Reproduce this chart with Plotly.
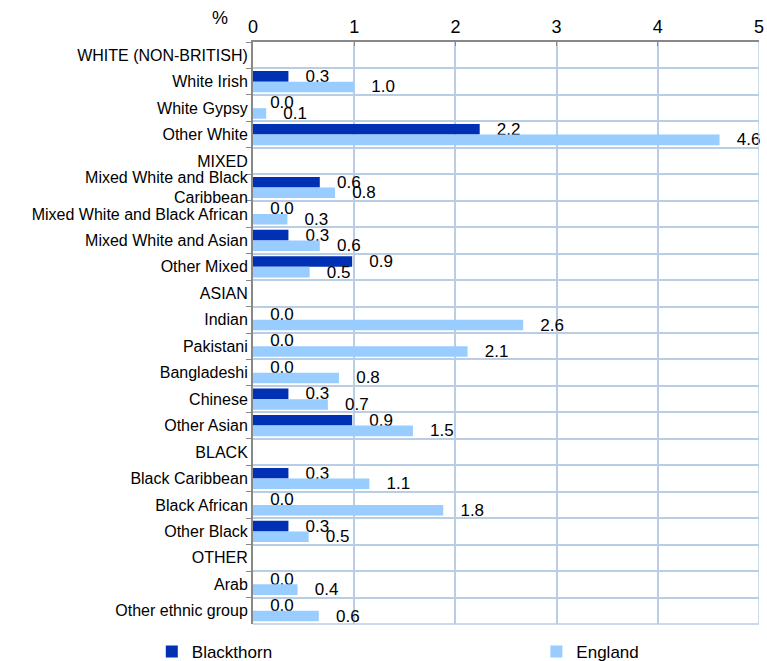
import plotly.graph_objects as go

categories = [
    "WHITE (NON-BRITISH)", "White Irish", "White Gypsy", "Other White",
    "MIXED", "Mixed White and Black<br>Caribbean", "Mixed White and Black African",
    "Mixed White and Asian", "Other Mixed",
    "ASIAN", "Indian", "Pakistani", "Bangladeshi", "Chinese", "Other Asian",
    "BLACK", "Black Caribbean", "Black African", "Other Black",
    "OTHER", "Arab", "Other ethnic group",
]
blackthorn = [None, 0.35, 0.0, 2.24,
              None, 0.66, 0.0, 0.35, 0.98,
              None, 0.0, 0.0, 0.0, 0.35, 0.98,
              None, 0.35, 0.0, 0.35,
              None, 0.0, 0.0]
blackthorn_labels = ["", "0.3", "0.0", "2.2",
                     "", "0.6", "0.0", "0.3", "0.9",
                     "", "0.0", "0.0", "0.0", "0.3", "0.9",
                     "", "0.3", "0.0", "0.3",
                     "", "0.0", "0.0"]
england = [None, 1.0, 0.13, 4.61,
           None, 0.81, 0.34, 0.66, 0.56,
           None, 2.67, 2.12, 0.85, 0.74, 1.58,
           None, 1.15, 1.88, 0.55,
           None, 0.44, 0.65]
england_labels = ["", "1.0", "0.1", "4.6",
                  "", "0.8", "0.3", "0.6", "0.5",
                  "", "2.6", "2.1", "0.8", "0.7", "1.5",
                  "", "1.1", "1.8", "0.5",
                  "", "0.4", "0.6"]
x_ticks = [0, 1, 2, 3, 4, 5]

FONT = "Liberation Sans, Arial, sans-serif"
GRID = "#B9CDE5"

fig = go.Figure()
fig.add_trace(go.Bar(
    y=categories, x=blackthorn, orientation="h", name="Blackthorn",
    marker=dict(color="#0030B4", line=dict(width=0)),
    text=["   " + t if t else "" for t in blackthorn_labels],
    textposition="outside", cliponaxis=False, constraintext="none",
    textfont=dict(family=FONT, size=17, color="#000000"),
    legend="legend",
))
fig.add_trace(go.Bar(
    y=categories, x=england, orientation="h", name="England",
    marker=dict(color="#99CCFF", line=dict(width=0)),
    text=["   " + t if t else "" for t in england_labels],
    textposition="outside", cliponaxis=False, constraintext="none",
    textfont=dict(family=FONT, size=17, color="#000000"),
    legend="legend2",
))

fig.update_layout(
    width=767, height=661,
    margin=dict(l=253, r=8, t=42, b=37, autoexpand=False),
    barmode="group", bargap=0.2, bargroupgap=0,
    plot_bgcolor="white", paper_bgcolor="white",
    font=dict(family=FONT, size=16, color="#000000"),
    showlegend=True,
    legend=dict(orientation="h", x=-0.2, y=-0.048, xanchor="left", yanchor="middle",
                font=dict(size=17, family=FONT), bgcolor="rgba(0,0,0,0)"),
    legend2=dict(orientation="h", x=0.56, y=-0.048, xanchor="left", yanchor="middle",
                 font=dict(size=17, family=FONT), bgcolor="rgba(0,0,0,0)"),
    xaxis=dict(side="top", range=[0, 5], tickvals=x_ticks, ticktext=[str(v) for v in x_ticks],
               showgrid=True, gridcolor=GRID, gridwidth=1.5,
               showline=True, linecolor="#888888", linewidth=2,
               ticks="inside", ticklen=4, tickcolor="#888888",
               tickfont=dict(size=18, family=FONT), zeroline=False),
    yaxis=dict(autorange="reversed", type="category", tickson="boundaries",
               showgrid=True, gridcolor=GRID, gridwidth=1.5,
               showline=True, linecolor="#888888", linewidth=2,
               ticks="outside", ticklen=5, tickcolor="#888888",
               tickfont=dict(size=16, family=FONT)),
)
fig.add_annotation(text="%", xref="paper", yref="paper", x=-0.045, y=1.0, yshift=24,
                   xanchor="right", yanchor="middle", showarrow=False,
                   font=dict(size=18, family=FONT))
fig.add_shape(type="line", xref="x", yref="paper", x0=5, x1=5, y0=0, y1=1,
              line=dict(color=GRID, width=1.5))
fig.add_shape(type="line", xref="x", yref="paper", x0=0, x1=5, y0=0, y1=0,
              line=dict(color=GRID, width=1.5))

fig.write_html("out.html", config={"displayModeBar": False},
               post_script="document.body.style.margin='0';document.body.style.overflow='hidden';")
